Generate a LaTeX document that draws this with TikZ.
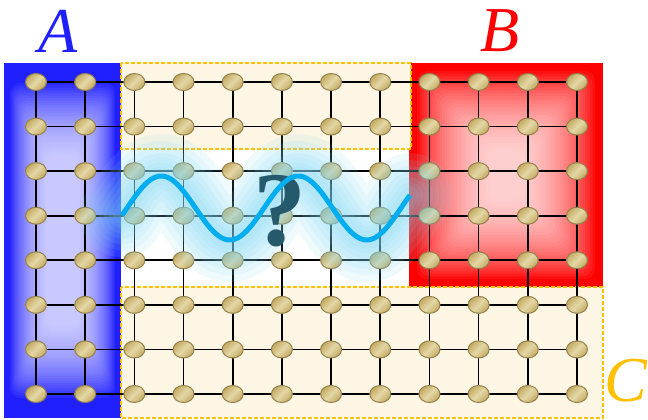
\documentclass[tikz,border=0pt]{standalone}
\usepackage{fontspec}
\setmainfont{Liberation Serif}
\usetikzlibrary{shapes.geometric}
\pgfdeclarelayer{bg}
\pgfdeclarelayer{lines}
\pgfdeclarelayer{fg}
\pgfsetlayers{bg,lines,main,fg}
\definecolor{regA}{HTML}{2020FF}
\definecolor{regB}{HTML}{FF0000}
\definecolor{regC}{HTML}{FFC000}
\definecolor{cream}{HTML}{FDF6E4}
\definecolor{nodedark}{HTML}{C3AA62}
\definecolor{nodelight}{HTML}{E4D7A6}
\definecolor{nodeedge}{HTML}{94804A}
\definecolor{wavec}{HTML}{00AEEF}
\definecolor{glowc}{HTML}{7FD6F2}
\definecolor{qmark}{HTML}{245A6C}
\tikzset{
  gnode/.style={ellipse, draw=nodeedge, line width=1pt, left color=nodedark,
    right color=nodedark, middle color=nodelight, shading angle=45,
    minimum width=21pt, minimum height=17pt, inner sep=0pt},
  gridline/.style={draw=black, line width=1.7pt},
  cbox/.style={fill=cream, draw=regC, dash pattern=on 4pt off 2pt, line width=1.4pt},
  lbl/.style={font=\fontsize{64}{64}\selectfont\itshape, inner sep=0pt},
  glowline/.style={glowc, opacity=0.12, line cap=round, line join=round},
}
\begin{document}
\begin{tikzpicture}[x=1pt, y=-1pt]
\useasboundingbox (0,0) rectangle (648,420);
% regions
\begin{pgfonlayer}{bg}
  \fill[regA] (4,63) rectangle (121,418);
  \foreach \i in {0,...,29}
    \fill[white, opacity=0.05, rounded corners=10pt]
      ({4+6+1.25*\i},{63+20+2.5*\i}) rectangle ({121-6-1.25*\i},{418-20-2.5*\i});
  \fill[regB] (409,63) rectangle (603,287);
  \foreach \i in {0,...,29}
    \fill[white, opacity=0.06, rounded corners=10pt]
      ({409+8+2.5*\i},{63+8+2.75*\i}) rectangle ({603-8-2.5*\i},{287-8-2.75*\i});
  \path[cbox] (121,63) rectangle (411,149);
  \path[cbox] (121,287) rectangle (603,418);
\end{pgfonlayer}
% nodes
\foreach \c in {1,...,12}
  \foreach \r in {1,...,8}
    \node[gnode] (n-\c-\r) at ({36+49.18*(\c-1)},{82+44.57*(\r-1)}) {};
% grid lines
\begin{pgfonlayer}{lines}
  \foreach \r in {1,...,8}
    \draw[gridline] (n-1-\r) -- (n-12-\r);
  \foreach \c in {1,...,12}
    \draw[gridline] (n-\c-1) -- (n-\c-8);
\end{pgfonlayer}
% glow, question mark and wave
\begin{pgfonlayer}{fg}
  \foreach \w in {84,70,58,46,36,26,18}
    \draw[glowline, line width=\w pt]
      plot[domain=122:410, samples=120, smooth] (\x, {208-32*sin(2.6277*(\x-127))});
  \node[text=qmark, inner sep=0pt, font=\fontsize{106}{106}\selectfont\bfseries] (q) at (280,211) {?};
  \draw[wavec, line width=5pt]
    plot[domain=122:410, samples=120, smooth] (\x, {208-32*sin(2.6277*(\x-127))});
\end{pgfonlayer}
% labels
\node[lbl, text=regA] (la) at (58,31) {A};
\node[lbl, text=regB] (lb) at (500,31) {B};
\node[lbl, text=regC] (lc) at (626,381) {C};
\end{tikzpicture}
\end{document}
